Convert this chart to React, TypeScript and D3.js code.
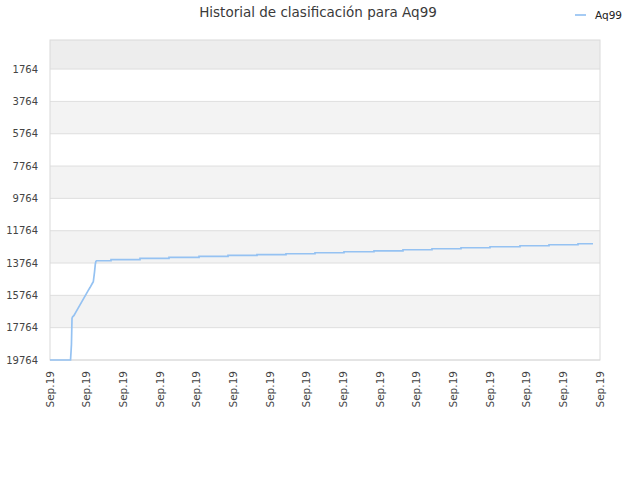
import { useEffect, useRef } from 'react';
import * as d3 from 'd3';

// time in "tick units" (0..15), rank values (lower is better)
// ramp: the early climb, drawn point to point
const rampTimes = [
  0, 0.56, 0.575, 0.585, 0.6, 0.614, 0.655, 0.709, 0.764, 0.818, 0.873, 0.927, 0.982,
  1.036, 1.091, 1.145, 1.181, 1.214, 1.236, 1.255,
];
const rampRanks = [
  19764, 19764, 19200, 18800, 17190, 17100, 17005, 16788, 16571, 16355, 16139, 15923,
  15706, 15490, 15281, 15064, 14922, 14322, 13827, 13622,
];
// steps: each value holds until the next time
const stepTimes = [
  1.255, 1.664, 2.455, 3.245, 4.064, 4.855, 5.645, 6.436, 7.227, 8.018, 8.836, 9.627,
  10.418, 11.209, 12.0, 12.818, 13.609, 14.4, 14.809,
];
const stepRanks = [
  13622, 13549, 13480, 13418, 13356, 13294, 13239, 13190, 13128, 13066, 13010, 12942,
  12880, 12818, 12757, 12695, 12633, 12571, 12571,
];
const yTicks = [1764, 3764, 5764, 7764, 9764, 11764, 13764, 15764, 17764, 19764];
const xTickLabels = Array.from({ length: 16 }, () => 'Sep.19');
const seriesName = 'Aq99';
const title = 'Historial de clasificación para Aq99';

const W = 640;
const H = 480;
const margin = { left: 50, right: 40, top: 40, bottom: 120 };
const font = 'DejaVu Sans, sans-serif';
const lineColor = '#95c2f2';

export default function App() {
  const svgRef = useRef<SVGSVGElement>(null);

  useEffect(() => {
    if (!svgRef.current) return;
    const svg = d3.select(svgRef.current);
    svg.selectAll('*').remove();

    const x = d3
      .scaleLinear()
      .domain([0, xTickLabels.length - 1])
      .range([margin.left, W - margin.right]);
    const y = d3
      .scaleLinear()
      .domain([-36, 19764])
      .range([margin.top, H - margin.bottom]);

    // ─── Bands ───────────────────────────────
    const bands = d3.pairs([-36, ...yTicks]);
    svg
      .append('g')
      .selectAll('rect')
      .data(bands)
      .join('rect')
      .attr('x', margin.left)
      .attr('width', W - margin.left - margin.right)
      .attr('y', (d) => y(d[0]))
      .attr('height', (d) => y(d[1]) - y(d[0]))
      .attr('fill', (d, i) => (i === 0 ? '#ededed' : i % 2 === 0 ? '#f3f3f3' : '#ffffff'));

    // ─── Grid ────────────────────────────────
    svg
      .append('g')
      .selectAll('line')
      .data(yTicks)
      .join('line')
      .attr('x1', margin.left)
      .attr('x2', W - margin.right)
      .attr('y1', (d) => y(d))
      .attr('y2', (d) => y(d))
      .attr('stroke', '#dedede')
      .attr('stroke-width', 1);

    // frame
    svg
      .append('rect')
      .attr('x', margin.left)
      .attr('y', margin.top)
      .attr('width', W - margin.left - margin.right)
      .attr('height', H - margin.top - margin.bottom)
      .attr('fill', 'none')
      .attr('stroke', '#dadada');

    // ─── Y labels ────────────────────────────
    svg
      .append('g')
      .selectAll('text')
      .data(yTicks)
      .join('text')
      .attr('x', margin.left - 12)
      .attr('y', (d) => y(d))
      .attr('dy', '0.35em')
      .attr('text-anchor', 'end')
      .attr('font-family', font)
      .attr('font-size', 10)
      .attr('fill', '#444')
      .text((d) => String(d));

    // ─── X labels ────────────────────────────
    svg
      .append('g')
      .selectAll('text')
      .data(xTickLabels)
      .join('text')
      .attr('transform', (d, i) => `translate(${x(i)},${H - margin.bottom + 11}) rotate(-90)`)
      .attr('dy', '0.35em')
      .attr('text-anchor', 'end')
      .attr('font-family', font)
      .attr('font-size', 10.5)
      .attr('fill', '#444')
      .text((d) => d);

    // ─── Line ────────────────────────────────
    const rampPts = rampTimes.map((t, i) => [t, rampRanks[i]] as [number, number]);
    const stepPts = stepTimes.map((t, i) => [t, stepRanks[i]] as [number, number]);
    const rampLine = d3
      .line<[number, number]>()
      .x((d) => x(d[0]))
      .y((d) => y(d[1]));
    const stepLine = d3
      .line<[number, number]>()
      .x((d) => x(d[0]))
      .y((d) => y(d[1]))
      .curve(d3.curveStepAfter);
    const lines = svg.append('g').attr('fill', 'none').attr('stroke', lineColor).attr('stroke-width', 1.7);
    lines.append('path').datum(rampPts).attr('d', rampLine);
    lines.append('path').datum(stepPts).attr('d', stepLine);

    // ─── Title ───────────────────────────────
    svg
      .append('text')
      .attr('x', 318)
      .attr('y', 17)
      .attr('text-anchor', 'middle')
      .attr('font-family', font)
      .attr('font-size', 13.5)
      .attr('fill', '#3a3a3a')
      .text(title);

    // ─── Legend ──────────────────────────────
    svg
      .append('line')
      .attr('x1', 575)
      .attr('x2', 586)
      .attr('y1', 15)
      .attr('y2', 15)
      .attr('stroke', lineColor)
      .attr('stroke-width', 1.7);
    svg
      .append('text')
      .attr('x', 595)
      .attr('y', 15)
      .attr('dy', '0.35em')
      .attr('font-family', font)
      .attr('font-size', 10.5)
      .attr('fill', '#222')
      .text(seriesName);
  }, []);

  return (
    <div style={{ position: 'fixed', left: 0, top: 0 }}>
      <svg ref={svgRef} width={W} height={H} style={{ display: 'block', background: '#fff' }} />
    </div>
  );
}
